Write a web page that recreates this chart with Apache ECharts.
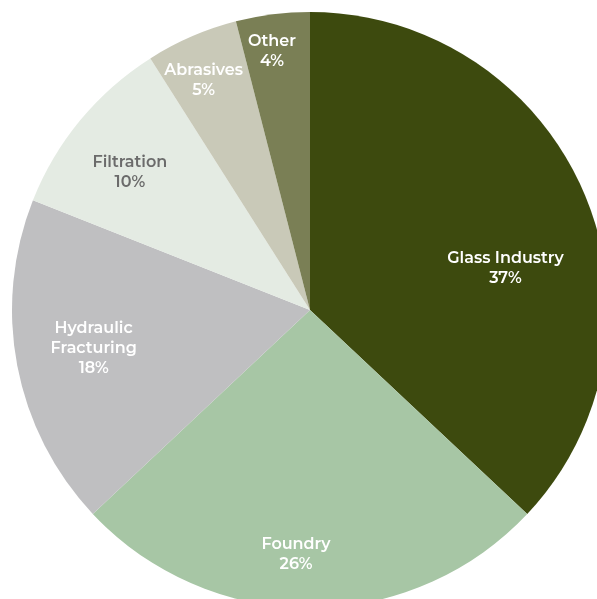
<!DOCTYPE html>
<html>
<head>
<meta charset="utf-8">
<script src="https://cdn.jsdelivr.net/npm/echarts@6/dist/echarts.min.js"></script>
<style>
html, body { margin: 0; padding: 0; background: #fff; }
#pieChart { width: 597px; height: 599px; }
</style>
</head>
<body>
<div id="pieChart"></div>
<script>
var names = ['Glass Industry', 'Foundry', 'Hydraulic\nFracturing', 'Filtration', 'Abrasives', 'Other'];
var shares = [37, 26, 18, 10, 5, 4];
var colors = ['#3d4a0e', '#a7c6a5', '#bfbfc1', '#e4ebe3', '#c9c9b8', '#7a7f55'];
var labelColors = ['#fff', '#fff', '#fff', '#6b6b6b', '#fff', '#fff'];
// nudge labels from the inside mid point to where the reference puts them
var labelOffsets = [[56, 19], [-14, 92], [-67, 10], [-63, -41], [-46, -90], [-19, -108]];

var getOption = function() {
	var data = [];
	for (var i = 0; i < names.length; i++) {
		data.push({
			value: shares[i],
			name: names[i],
			itemStyle: { color: colors[i] },
			label: { color: labelColors[i], offset: labelOffsets[i] }
		});
	}
	return {
		animation: false,
		series: [{
			type: 'pie',
			radius: [0, 298],
			center: [310, 310],
			startAngle: 90,
			clockwise: true,
			silent: true,
			data: data,
			label: {
				position: 'inside',
				fontFamily: 'Montserrat, "Open Sans", sans-serif',
				fontSize: 16,
				fontWeight: 600,
				lineHeight: 20,
				align: 'center',
				formatter: function(p) {
					return p.name + '\n' + p.value + '%';
				}
			},
			labelLine: { show: false },
			itemStyle: { borderWidth: 0 }
		}]
	};
};

var pieChart = echarts.init(document.getElementById('pieChart'));
pieChart.setOption(getOption());
</script>
</body>
</html>
